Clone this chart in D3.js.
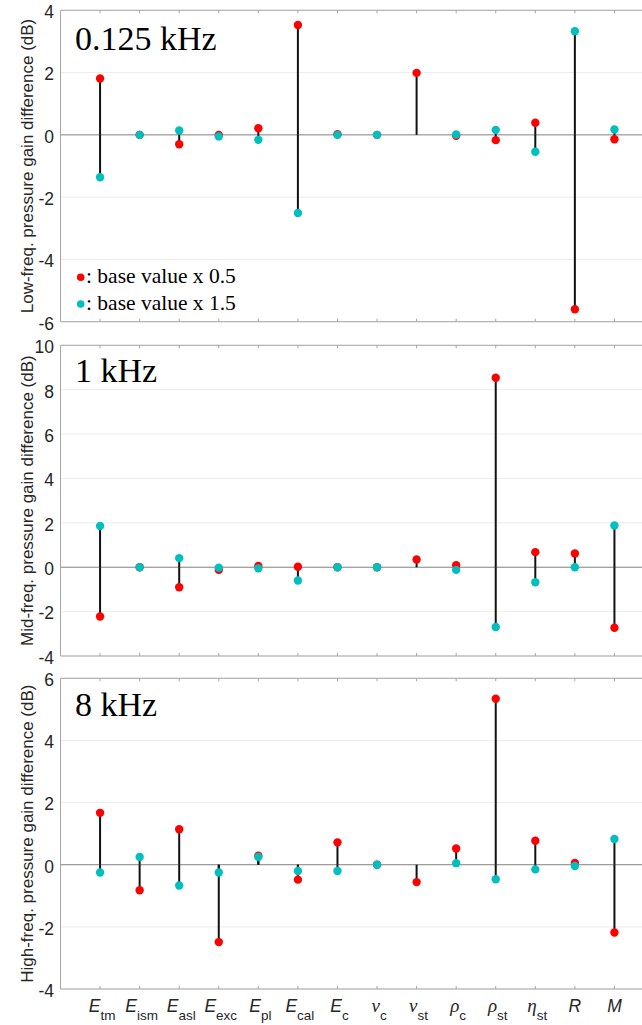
<!DOCTYPE html>
<html>
<head>
<meta charset="utf-8">
<script src="https://cdn.jsdelivr.net/npm/d3@7"></script>
<style>
  body { margin: 0; background: #fff; }
  svg { display: block; }
</style>
</head>
<body>
<div class="chart"></div>
<script>
'use strict';

// parameter labels: [main symbol, subscript, font kind]
const params = [
  ['E', 'tm', 'sans'], ['E', 'ism', 'sans'], ['E', 'asl', 'sans'], ['E', 'exc', 'sans'],
  ['E', 'pl', 'sans'], ['E', 'cal', 'sans'], ['E', 'c', 'sans'], ['\u03bd', 'c', 'greek'],
  ['\u03bd', 'st', 'greek'], ['\u03c1', 'c', 'greek'], ['\u03c1', 'st', 'greek'],
  ['\u03b7', 'st', 'greek'], ['R', '', 'sans'], ['M', '', 'sans']
];

// base value x 0.5 (red) and x 1.5 (cyan), in dB
const lowHalf = [1.81, 0, -0.30, 0, 0.21, 3.53, 0.02, 0, 1.99, -0.03, -0.17, 0.39, -5.60, -0.14];
const lowOneHalf = [-1.36, 0, 0.14, -0.05, -0.16, -2.51, 0, 0, null, 0.01, 0.16, -0.54, 3.33, 0.17];
const midHalf = [-2.22, 0, -0.90, -0.12, 0.06, 0.02, 0, 0, 0.35, 0.09, 8.54, 0.68, 0.62, -2.73];
const midOneHalf = [1.86, 0, 0.41, -0.02, -0.05, -0.60, 0, 0, null, -0.12, -2.69, -0.68, 0, 1.88];
const highHalf = [1.67, -0.82, 1.14, -2.49, 0.29, -0.48, 0.72, 0, -0.56, 0.52, 5.34, 0.77, 0.06, -2.18];
const highOneHalf = [-0.25, 0.25, -0.67, -0.25, 0.25, -0.20, -0.20, 0, null, 0.05, -0.47, -0.15, -0.04, 0.83];

const lowTicks = [-6, -4, -2, 0, 2, 4];
const midTicks = [-4, -2, 0, 2, 4, 6, 8, 10];
const highTicks = [-4, -2, 0, 2, 4, 6];

const RED = '#ff0000';
const CYAN = '#00bfbf';
const AXIS = '#a6a6a6';

const W = 642, H = 1025;

const panels = [
  {title: '0.125 kHz', label: 'Low-freq. pressure gain difference (dB)', half: lowHalf, oneHalf: lowOneHalf,
   ticks: lowTicks, top: 10.3, bottom: 321.7, titleY: 50, legend: true},
  {title: '1 kHz', label: 'Mid-freq. pressure gain difference (dB)', half: midHalf, oneHalf: midOneHalf,
   ticks: midTicks, top: 345.3, bottom: 656, titleY: 382},
  {title: '8 kHz', label: 'High-freq. pressure gain difference (dB)', half: highHalf, oneHalf: highOneHalf,
   ticks: highTicks, top: 678.3, bottom: 989, titleY: 716, xlabels: true}
];

const svg = d3.select('.chart')
  .append('svg')
    .attr('width', W)
    .attr('height', H);

const left = 60.5, right = 654;

const x = d3.scalePoint()
  .domain(d3.range(params.length))
  .range([left, right])
  .padding(1);

panels.forEach((p) => {
  const y = d3.scaleLinear()
    .domain([p.ticks[0], p.ticks[p.ticks.length - 1]])
    .range([p.bottom, p.top]);

  const g = svg.append('g');

  // grid lines
  g.selectAll('.grid')
    .data(p.ticks.filter((t) => t !== 0))
    .enter()
    .append('line')
    .attr('x1', left).attr('x2', right)
    .attr('y1', (d) => y(d)).attr('y2', (d) => y(d))
    .attr('stroke', '#ececec')
    .attr('stroke-width', 1);

  // zero line
  g.append('line')
    .attr('x1', left).attr('x2', right)
    .attr('y1', y(0)).attr('y2', y(0))
    .attr('stroke', '#808080')
    .attr('stroke-width', 1);

  // y tick labels
  g.append('g')
    .attr('transform', 'translate(' + left + ',0)')
    .call(d3.axisLeft(y).tickValues(p.ticks).tickSize(0).tickPadding(6.5)
      .tickFormat((d) => String(d)))
    .call((a) => a.select('.domain').remove())
    .call((a) => a.selectAll('text')
      .attr('font-family', 'Liberation Sans, Arial, sans-serif')
      .attr('font-size', 17.5)
      .attr('fill', '#262626')
      .attr('dy', '0.42em'));

  // box: top, left, bottom
  g.append('path')
    .attr('d', `M${right},${p.top}H${left}V${p.bottom}H${right}`)
    .attr('fill', 'none')
    .attr('stroke', AXIS)
    .attr('stroke-width', 1);

  // inner ticks top & bottom
  g.selectAll('.tt')
    .data(x.domain())
    .enter()
    .append('path')
    .attr('d', (d) => `M${x(d)},${p.top}v3M${x(d)},${p.bottom}v-3`)
    .attr('stroke', AXIS)
    .attr('stroke-width', 1);

  // stems from zero
  const stems = [];
  p.half.forEach((v, i) => { if (v !== null) stems.push([i, v]); });
  p.oneHalf.forEach((v, i) => { if (v !== null) stems.push([i, v]); });
  g.selectAll('.stem')
    .data(stems)
    .enter()
    .append('line')
    .attr('x1', (d) => x(d[0])).attr('x2', (d) => x(d[0]))
    .attr('y1', y(0)).attr('y2', (d) => y(d[1]))
    .attr('stroke', '#111')
    .attr('stroke-width', 2);

  g.selectAll('.red')
    .data(p.half.map((v, i) => [i, v]).filter((d) => d[1] !== null))
    .enter()
    .append('circle')
    .attr('cx', (d) => x(d[0]))
    .attr('cy', (d) => y(d[1]))
    .attr('r', 4.2)
    .attr('fill', RED);

  g.selectAll('.cyan')
    .data(p.oneHalf.map((v, i) => [i, v]).filter((d) => d[1] !== null))
    .enter()
    .append('circle')
    .attr('cx', (d) => x(d[0]))
    .attr('cy', (d) => y(d[1]))
    .attr('r', 4.2)
    .attr('fill', CYAN);

  // panel title
  g.append('text')
    .attr('x', 75)
    .attr('y', p.titleY)
    .attr('font-family', 'Liberation Serif, Times New Roman, serif')
    .attr('font-size', 34)
    .attr('fill', '#000')
    .text(p.title);

  // y label
  g.append('text')
    .attr('transform', `translate(33,${(p.top + p.bottom) / 2}) rotate(-90)`)
    .attr('text-anchor', 'middle')
    .attr('font-family', 'Liberation Sans, Arial, sans-serif')
    .attr('font-size', 17)
    .attr('fill', '#262626')
    .text(p.label);

  if (p.legend) {
    const items = [[RED, ': base value x 0.5', 283.3], [CYAN, ': base value x 1.5', 310]];
    items.forEach((it) => {
      g.append('circle')
        .attr('cx', 80.7)
        .attr('cy', it[2] - 6)
        .attr('r', 3.8)
        .attr('fill', it[0]);
      g.append('text')
        .attr('x', 86)
        .attr('y', it[2])
        .attr('font-family', 'Liberation Serif, Times New Roman, serif')
        .attr('font-size', 21.5)
        .attr('fill', '#000')
        .text(it[1]);
    });
  }

  if (p.xlabels) {
    const lab = g.selectAll('.xl')
      .data(params.map((d, i) => [i, d]))
      .enter()
      .append('text')
      .attr('x', (d) => x(d[0]) + (d[1][1] ? 2 : 0))
      .attr('y', 1012)
      .attr('text-anchor', 'middle')
      .attr('fill', '#262626');
    lab.append('tspan')
      .attr('font-family', (d) => d[1][2] === 'greek' ? 'Liberation Serif, serif' : 'Liberation Sans, Arial, sans-serif')
      .attr('font-style', 'italic')
      .attr('font-size', (d) => d[1][2] === 'greek' ? 19 : 17.5)
      .text((d) => d[1][0]);
    lab.append('tspan')
      .attr('font-family', 'Liberation Sans, Arial, sans-serif')
      .attr('font-size', 13.5)
      .attr('dy', 8)
      .text((d) => d[1][1]);
  }
});
</script>
</body>
</html>
